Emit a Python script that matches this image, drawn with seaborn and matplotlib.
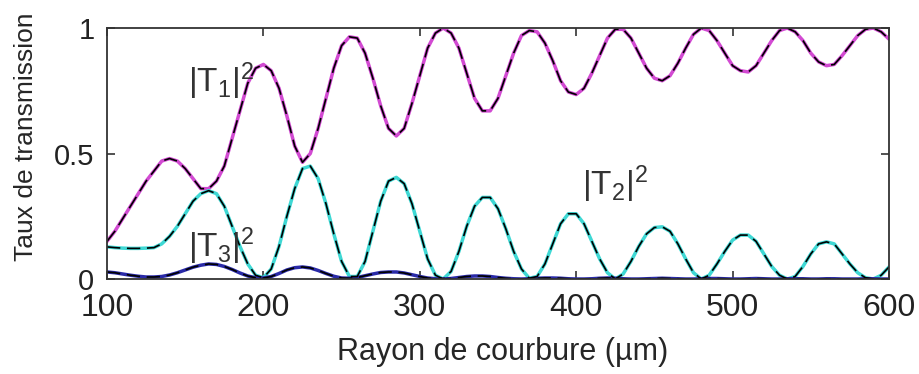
import matplotlib
matplotlib.use("Agg")
import matplotlib.pyplot as plt
import numpy as np
import pandas as pd
import seaborn as sns

# Radius of curvature (µm), one value every 5 µm
radius = list(range(100, 605, 5))

# |T1|^2
t1 = [0.15, 0.19, 0.24, 0.29, 0.34, 0.39, 0.43, 0.47, 0.48, 0.47,
      0.44, 0.40, 0.36, 0.36, 0.39, 0.45, 0.56, 0.67, 0.78, 0.84,
      0.855, 0.83, 0.76, 0.65, 0.53, 0.465, 0.50, 0.60, 0.72, 0.84,
      0.93, 0.965, 0.96, 0.90, 0.80, 0.69, 0.60, 0.57, 0.60, 0.70,
      0.81, 0.92, 0.98, 1.00, 0.98, 0.92, 0.82, 0.72, 0.67, 0.67,
      0.72, 0.81, 0.90, 0.97, 0.99, 0.985, 0.94, 0.87, 0.79, 0.745,
      0.735, 0.76, 0.82, 0.89, 0.96, 0.995, 0.995, 0.96, 0.90, 0.84,
      0.80, 0.79, 0.81, 0.86, 0.92, 0.975, 1.00, 0.99, 0.95, 0.90,
      0.85, 0.83, 0.825, 0.85, 0.90, 0.95, 0.99, 1.00, 0.985, 0.95,
      0.90, 0.865, 0.85, 0.855, 0.89, 0.93, 0.97, 0.995, 1.00, 0.985,
      0.956]

# |T2|^2
t2 = [0.128, 0.125, 0.123, 0.122, 0.122, 0.123, 0.125, 0.14, 0.17, 0.21,
      0.26, 0.31, 0.34, 0.352, 0.34, 0.29, 0.21, 0.13, 0.06, 0.015,
      0.005, 0.04, 0.13, 0.25, 0.36, 0.44, 0.45, 0.40, 0.30, 0.18,
      0.07, 0.01, 0.01, 0.07, 0.19, 0.31, 0.39, 0.405, 0.38, 0.30,
      0.19, 0.08, 0.015, 0.0, 0.03, 0.11, 0.21, 0.29, 0.325, 0.325,
      0.28, 0.20, 0.11, 0.04, 0.003, 0.01, 0.06, 0.14, 0.22, 0.26,
      0.26, 0.22, 0.15, 0.08, 0.025, 0.0, 0.02, 0.07, 0.13, 0.18,
      0.205, 0.208, 0.19, 0.14, 0.08, 0.025, 0.0, 0.015, 0.06, 0.11,
      0.155, 0.175, 0.175, 0.15, 0.10, 0.05, 0.015, 0.0, 0.01, 0.05,
      0.10, 0.14, 0.148, 0.14, 0.10, 0.06, 0.025, 0.005, 0.0, 0.015,
      0.048]

# |T3|^2
t3 = [0.028, 0.025, 0.02, 0.015, 0.011, 0.008, 0.008, 0.01, 0.016, 0.025,
      0.036, 0.047, 0.055, 0.06, 0.058, 0.05, 0.038, 0.024, 0.012, 0.005,
      0.004, 0.01, 0.022, 0.036, 0.045, 0.048, 0.044, 0.034, 0.022, 0.011,
      0.004, 0.003, 0.006, 0.013, 0.02, 0.026, 0.028, 0.028, 0.024, 0.017,
      0.01, 0.004, 0.001, 0.0, 0.002, 0.006, 0.01, 0.012, 0.012, 0.01,
      0.006, 0.003, 0.001, 0.0, 0.001, 0.003, 0.004, 0.004, 0.003, 0.001,
      0.0, 0.0, 0.001, 0.003, 0.004, 0.003, 0.001, 0.0, 0.0, 0.001,
      0.002, 0.003, 0.002, 0.001, 0.0, 0.0, 0.001, 0.002, 0.002, 0.001,
      0.0, 0.0, 0.001, 0.002, 0.001, 0.0, 0.0, 0.001, 0.001, 0.001,
      0.0, 0.0, 0.001, 0.001, 0.0, 0.0, 0.0, 0.001, 0.001, 0.0,
      0.0]

labels = ["$|T_1|^2$", "$|T_2|^2$", "$|T_3|^2$"]
colors = ["#d24ad2", "#3ed8d4", "#2a2aa8"]

df = pd.DataFrame({"radius": radius * 3,
                   "value": t1 + t2 + t3,
                   "curve": np.repeat(labels, len(radius))})

sns.set_style("white")
plt.rcParams["font.family"] = ["Liberation Sans", "DejaVu Sans"]
plt.rcParams["mathtext.default"] = "regular"

fig = plt.figure(figsize=(9.2, 3.74), dpi=100)
ax = fig.add_axes([0.1163, 0.254, 0.85, 0.671])

# solid coloured curves, black dashed model on top
sns.lineplot(data=df, x="radius", y="value", hue="curve", palette=colors,
             linewidth=2.5, estimator=None, sort=False, legend=False, ax=ax)
for name in labels:
    sub = df[df["curve"] == name]
    sns.lineplot(x=sub["radius"], y=sub["value"], color="black", linewidth=1.2,
                 linestyle=(0, (8, 4)), estimator=None, sort=False, ax=ax)

ax.set_xlim(100, 600)
ax.set_ylim(0, 1)
ax.set_xticks([100, 200, 300, 400, 500, 600])
ax.set_yticks([0, 0.5, 1])
ax.set_yticklabels(["0", "0.5", "1"])

ax.tick_params(axis="x", labelsize=23, pad=10)
ax.tick_params(axis="y", labelsize=21, pad=9)
ax.tick_params(axis="both", direction="in", length=6, width=1.2, color="#333333",
               labelcolor="#222222", top=True, right=True, bottom=True, left=True)
for s in ax.spines.values():
    s.set_color("#333333")
    s.set_linewidth(1.3)

ax.set_xlabel("Rayon de courbure (µm)", fontsize=22)
ax.set_ylabel("Taux de transmission", fontsize=19)
ax.xaxis.set_label_coords(0.506, -0.23)
ax.yaxis.set_label_coords(-0.088, 0.566)

ax.text(151.8, 0.744, labels[0], fontsize=24, color="#333333",
        ha="left", va="baseline")
ax.text(403.7, 0.336, labels[1], fontsize=24, color="#333333",
        ha="left", va="baseline")
ax.text(151.8, 0.088, labels[2], fontsize=24, color="#333333",
        ha="left", va="baseline")

fig.savefig("out.png", dpi=100)
plt.close(fig)
